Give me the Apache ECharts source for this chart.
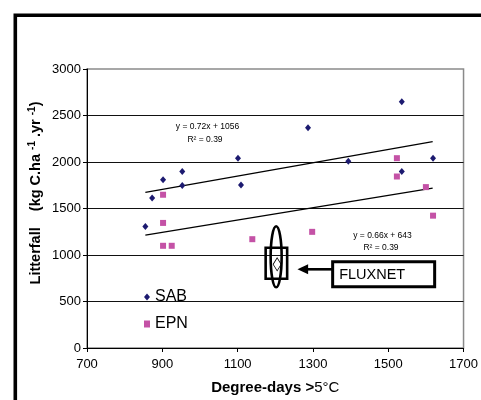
<!DOCTYPE html>
<html>
<head>
<meta charset="utf-8">
<script src="https://cdn.jsdelivr.net/npm/echarts@6/dist/echarts.min.js"></script>
<style>html,body{margin:0;padding:0;background:#fff}#c{width:481px;height:400px}</style>
</head>
<body>
<div id="c"></div>
<script>
const FONT = 'Liberation Sans, Arial, sans-serif';
const sabX = [855, 873, 902, 953, 953, 1101, 1109, 1287, 1394, 1536, 1536, 1619];
const sabY = [1306, 1612, 1809, 1898, 1746, 2039, 1752, 2369, 2009, 2647, 1898, 2041];
const epnX = [902, 902, 902, 925, 1139, 1298, 1523, 1523, 1600, 1619];
const epnY = [1648, 1345, 1099, 1099, 1170, 1249, 2041, 1844, 1730, 1423];
const sabTrendX = [855, 1618];
const sabTrendY = [1673, 2219];
const epnTrendX = [855, 1618];
const epnTrendY = [1213, 1720];
const fluxX = [1205];
const fluxY = [900];
const xTicks = [700, 900, 1100, 1300, 1500, 1700];
const yTicks = [0, 500, 1000, 1500, 2000, 2500, 3000];
const sabEq = ['y = 0.72x + 1056', 'R² = 0.39'];
const epnEq = ['y = 0.66x + 643', 'R² = 0.39'];
const seriesNames = ['SAB', 'EPN'];

const zip = (a, b) => a.map((v, i) => [v, b[i]]);
const plain = v => String(v);

const chart = echarts.init(document.getElementById('c'), null, {renderer: 'canvas'});
chart.setOption({
  animation: false,
  backgroundColor: '#fff',
  textStyle: {fontFamily: FONT},
  grid: {left: 87, right: 17, top: 69, bottom: 51, show: true, borderColor: '#8a8a8a', borderWidth: 1.5, backgroundColor: 'transparent'},
  legend: {
    orient: 'vertical', left: 139, top: 283, itemGap: 9,
    itemWidth: 6, itemHeight: 7,
    textStyle: {fontFamily: FONT, fontSize: 16, color: '#000', lineHeight: 18},
    data: [{name: seriesNames[0], icon: 'diamond'}, {name: seriesNames[1], icon: 'rect'}]
  },
  xAxis: {
    type: 'value', min: xTicks[0], max: xTicks[xTicks.length - 1], interval: 200,
    axisLine: {lineStyle: {color: '#000', width: 1}},
    axisTick: {show: true, length: 4, lineStyle: {color: '#000'}},
    axisLabel: {fontFamily: FONT, fontSize: 13, color: '#000', margin: 10, showMaxLabel: true, formatter: plain},
    splitLine: {show: false},
    name: '{b|Degree-days >}{n|5°C}', nameLocation: 'middle', nameGap: 32,
    nameTextStyle: {rich: {b: {fontFamily: FONT, fontSize: 15, fontWeight: 'bold', color: '#000'}, n: {fontFamily: FONT, fontSize: 15, color: '#000'}}}
  },
  yAxis: {
    type: 'value', min: yTicks[0], max: yTicks[yTicks.length - 1], interval: 500,
    axisLine: {show: true, lineStyle: {color: '#000', width: 1}},
    axisTick: {show: true, length: 4, lineStyle: {color: '#000'}},
    axisLabel: {fontFamily: FONT, fontSize: 13, color: '#000', margin: 6, formatter: plain},
    splitLine: {show: true, showMinLine: false, showMaxLine: false, lineStyle: {color: '#111', width: 1}}
  },
  series: [
    {name: seriesNames[0], type: 'scatter', symbol: 'diamond', symbolSize: [6, 7], itemStyle: {color: '#1c1a70', opacity: 1}, data: zip(sabX, sabY), z: 5},
    {name: seriesNames[1], type: 'scatter', symbol: 'rect', symbolSize: 6, itemStyle: {color: '#c452a6', opacity: 1}, data: zip(epnX, epnY), z: 5},
    {name: 'SAB trend', type: 'line', data: zip(sabTrendX, sabTrendY), symbol: 'none', lineStyle: {color: '#000', width: 1.3}, z: 4},
    {name: 'EPN trend', type: 'line', data: zip(epnTrendX, epnTrendY), symbol: 'none', lineStyle: {color: '#000', width: 1.3}, z: 4},
    {name: 'FLUXNET', type: 'scatter', symbol: 'diamond', symbolSize: [8, 13], itemStyle: {color: '#fff', borderColor: '#000', borderWidth: 0.8, opacity: 1}, data: zip(fluxX, fluxY), z: 6}
  ]
});

const p = chart.convertToPixel({gridIndex: 0}, [fluxX[0], fluxY[0]]);
const px = p[0], py = p[1];
const eqStyle = {fontFamily: FONT, fontSize: 8.5, fill: '#000', align: 'center', verticalAlign: 'middle'};
chart.setOption({
  graphic: [
    {type: 'rect', shape: {x: 15.3, y: 15.3, width: 700, height: 700}, style: {fill: 'none', stroke: '#000', lineWidth: 3.6}, z: 100},
    {type: 'text', x: 36, y: 193, rotation: Math.PI / 2, style: {
      text: '{b|Litterfall    (kg C.ha }{s|-1}{b| .yr }{s|-1}{b|)}', align: 'center', verticalAlign: 'middle',
      rich: {b: {fontFamily: FONT, fontSize: 14.5, fontWeight: 'bold', fill: '#000', lineHeight: 18}, s: {fontFamily: FONT, fontSize: 10, fontWeight: 'bold', fill: '#000', verticalAlign: 'top'}}
    }, z: 100},
    {type: 'text', x: 207.5, y: 127, style: Object.assign({text: sabEq[0]}, eqStyle), z: 100},
    {type: 'text', x: 205, y: 140, style: Object.assign({text: sabEq[1]}, eqStyle), z: 100},
    {type: 'text', x: 382.5, y: 236, style: Object.assign({text: epnEq[0]}, eqStyle), z: 100},
    {type: 'text', x: 381, y: 248, style: Object.assign({text: epnEq[1]}, eqStyle), z: 100},
    {type: 'ellipse', shape: {cx: px - 1, cy: py - 7.5, rx: 5.5, ry: 30.5}, style: {fill: 'none', stroke: '#000', lineWidth: 2.6}, z: 100},
    {type: 'rect', shape: {x: px - 11.5, y: py - 16.5, width: 21.5, height: 31}, style: {fill: 'none', stroke: '#000', lineWidth: 2.6}, z: 100},
    {type: 'line', shape: {x1: px + 29, y1: py + 5, x2: px + 55, y2: py + 5}, style: {stroke: '#000', lineWidth: 2.6}, z: 100},
    {type: 'polygon', shape: {points: [[px + 20.3, py + 5], [px + 31, py], [px + 31, py + 10]]}, style: {fill: '#000'}, z: 100},
    {type: 'rect', shape: {x: px + 55.5, y: py - 2.5, width: 102, height: 25}, style: {fill: '#fff', stroke: '#000', lineWidth: 3}, z: 100},
    {type: 'text', x: px + 62, y: py + 10.5, style: {text: 'FLUXNET', fontFamily: FONT, fontSize: 14.5, fill: '#000', align: 'left', verticalAlign: 'middle'}, z: 101}
  ]
});
</script>
</body>
</html>
